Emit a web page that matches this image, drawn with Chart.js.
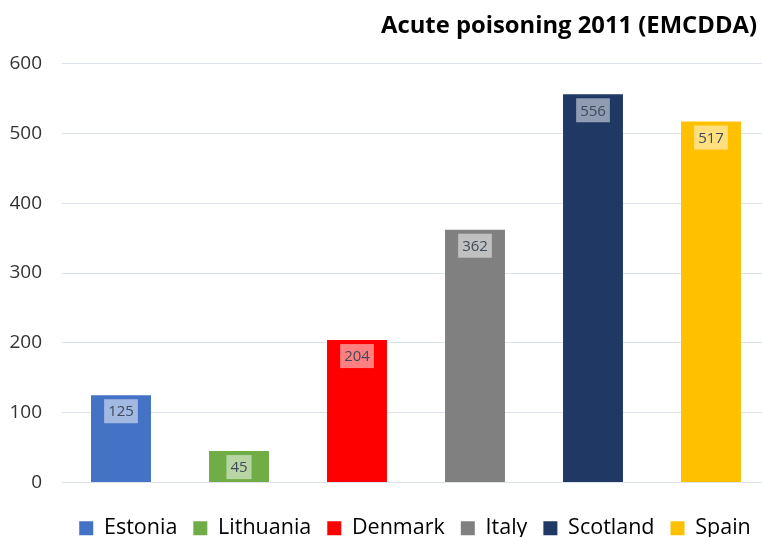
<!DOCTYPE html>
<html>
<head>
<meta charset="utf-8">
<script src="https://cdn.jsdelivr.net/npm/chart.js@4"></script>
<style>
  html, body { margin: 0; padding: 0; background: #fff; overflow: hidden; }
  .wrap { position: relative; width: 770px; height: 537px; }
</style>
</head>
<body>
<div class="wrap"><canvas id="poisonChart" width="770" height="537"></canvas></div>
<script>
const countries = ["Estonia", "Lithuania", "Denmark", "Italy", "Scotland", "Spain"];
const cases = [125, 45, 204, 362, 556, 517];
const barColors = ["#4472C4", "#70AD47", "#FF0000", "#808080", "#203864", "#FFC000"];
const yTicks = [0, 100, 200, 300, 400, 500, 600];

const FONT = "'Open Sans', sans-serif";

// value boxes drawn inside the top of each bar
const valueLabels = {
    id: "valueLabels",
    afterDatasetsDraw(chart) {
        const ctx = chart.ctx;
        ctx.save();
        ctx.font = "15px " + FONT;
        ctx.textAlign = "center";
        ctx.textBaseline = "middle";
        const meta = chart.getDatasetMeta(0);
        meta.data.forEach((bar, j) => {
            const txt = String(cases[j]);
            const w = ctx.measureText(txt).width + 8;
            const h = 24;
            const top = bar.y + 4;
            ctx.fillStyle = "rgba(255,255,255,0.5)";
            ctx.fillRect(bar.x - w / 2, top, w, h);
            ctx.fillStyle = "#404a5a";
            ctx.fillText(txt, bar.x, top + h / 2 + 1);
        });
        ctx.restore();
    }
};

// nudge title and legend to where the original sits
const nudge = {
    id: "nudge",
    afterLayout(chart) {
        const t = chart.titleBlock;
        if (t) { t.left -= 13; t.right -= 13; }
        const l = chart.legend;
        if (l) { l.left += 27; l.right += 27; l.top += 11; l.bottom += 11; }
    }
};

new Chart(document.getElementById("poisonChart"), {
    type: "bar",
    data: {
        labels: countries,
        datasets: [{
            label: "Acute poisoning",
            data: cases,
            backgroundColor: barColors,
            borderWidth: 0,
            categoryPercentage: 1,
            barPercentage: 0.508
        }]
    },
    options: {
        responsive: false,
        animation: false,
        devicePixelRatio: 1,
        layout: { padding: { left: 6, right: 0, top: 9, bottom: -1 } },
        plugins: {
            title: {
                display: true,
                text: "Acute poisoning 2011 (EMCDDA)",
                align: "end",
                color: "#000",
                font: { family: FONT, size: 23.8, weight: "bold" },
                padding: { top: 3, bottom: 23 }
            },
            legend: {
                position: "bottom",
                labels: {
                    color: "#222",
                    font: { family: FONT, size: 21.5 },
                    boxWidth: 14,
                    boxHeight: 14,
                    padding: 16,
                    generateLabels: () => countries.map((c, i) => ({
                        text: c,
                        fillStyle: barColors[i],
                        strokeStyle: barColors[i],
                        lineWidth: 0,
                        hidden: false,
                        index: i
                    }))
                },
                onClick: null
            },
            tooltip: { enabled: false }
        },
        scales: {
            x: {
                grid: { display: false },
                border: { display: false },
                ticks: { display: false }
            },
            y: {
                min: 0,
                max: 600,
                afterBuildTicks: (scale) => {
                    scale.ticks = yTicks.map((v) => ({ value: v }));
                },
                afterFit: (scale) => { scale.width = 56; },
                grid: { color: "#dde3ea", drawTicks: false },
                border: { display: false },
                ticks: {
                    color: "#333",
                    padding: 20,
                    font: { family: FONT, size: 19 }
                }
            }
        }
    },
    plugins: [valueLabels, nudge]
});
</script>
</body>
</html>
